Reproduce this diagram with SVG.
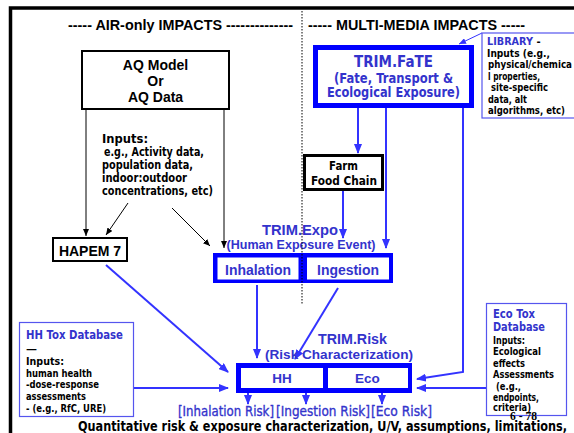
<svg xmlns="http://www.w3.org/2000/svg" width="574" height="433" viewBox="0 0 574 433">
<defs>
<style>
.hdr{font-family:"Liberation Sans",Arial,sans-serif;font-weight:bold;font-size:14px;fill:#000}
.ar{font-family:"Liberation Sans",Arial,sans-serif;font-weight:bold;fill:#3333cc}
.vb{font-family:"DejaVu Sans",Verdana,sans-serif;font-weight:bold}
.blk{fill:#000}
.blu{fill:#3333cc}
.bbox{fill:none;stroke:#0000ff;stroke-width:5}
.tbox{fill:#fff;stroke:#5555ee;stroke-width:1.2}
.kbox{fill:#fff;stroke:#000}
.barr{stroke:#3333ff;stroke-width:2;fill:none;marker-end:url(#ab)}
.karr{stroke:#000;stroke-width:1;fill:none;marker-end:url(#ak)}
</style>
<marker id="ab" markerUnits="userSpaceOnUse" markerWidth="10" markerHeight="8" refX="9" refY="4" orient="auto"><path d="M0,0 L10,4 L0,8 z" fill="#3333ff"/></marker>
<marker id="ak" markerUnits="userSpaceOnUse" markerWidth="7" markerHeight="6" refX="7" refY="3" orient="auto"><path d="M0,0 L7,3 L0,6 z" fill="#000"/></marker>
<marker id="at" markerUnits="userSpaceOnUse" markerWidth="7" markerHeight="6" refX="7" refY="3" orient="auto"><path d="M0,0 L7,3 L0,6 z" fill="#3333ff"/></marker>
</defs>
<rect width="574" height="433" fill="#fff"/>
<!-- frame -->
<path d="M10.5,433 V8 H574" fill="none" stroke="#000" stroke-width="3.5"/>
<text class="hdr" x="68" y="30" textLength="225" lengthAdjust="spacingAndGlyphs">----- AIR-only IMPACTS --------------</text>
<text class="hdr" x="308" y="30" textLength="217" lengthAdjust="spacingAndGlyphs">----- MULTI-MEDIA IMPACTS -----</text>

<g id="connectors">
<line class="karr" x1="86" y1="110" x2="86" y2="236"/>
<line class="karr" x1="224" y1="110" x2="224" y2="248"/>
<line class="karr" x1="128" y1="203" x2="106" y2="235"/>
<line class="karr" x1="172" y1="208" x2="210" y2="246"/>
<line class="barr" x1="358" y1="108" x2="358" y2="153"/>
<line class="barr" x1="386" y1="108" x2="386" y2="248"/>
<line class="barr" x1="343" y1="191" x2="343" y2="238"/>
<polyline class="barr" points="463,108 463,372 417,379"/>
<line class="barr" x1="487" y1="388" x2="417" y2="388"/>
<line x1="482" y1="33" x2="459" y2="44" stroke="#3333ff" stroke-width="1" marker-end="url(#at)"/>
<line class="barr" x1="106" y1="265" x2="228" y2="372"/>
<line class="barr" x1="134" y1="388" x2="228" y2="388"/>
<line class="barr" x1="257" y1="285" x2="257" y2="358"/>
<line class="barr" x1="338" y1="288" x2="295" y2="359"/>
<line class="barr" x1="248" y1="391" x2="248" y2="404"/>
<line class="barr" x1="306" y1="388" x2="306" y2="404"/>
<line class="barr" x1="382" y1="391" x2="382" y2="404"/>
</g>

<g id="aq-model">
<rect class="kbox" x="82" y="51" width="147" height="58" stroke-width="2"/>
<text class="hdr" x="155.5" y="70" text-anchor="middle">AQ Model</text>
<text class="hdr" x="155.5" y="86" text-anchor="middle">Or</text>
<text class="hdr" x="155.5" y="102" text-anchor="middle">AQ Data</text>
</g>

<g id="inputs" class="vb blk" font-size="11.5">
<text x="102" y="143" textLength="46" lengthAdjust="spacingAndGlyphs">Inputs:</text>
<text x="104" y="156" textLength="100" lengthAdjust="spacingAndGlyphs">e.g., Activity data,</text>
<text x="102" y="169" textLength="91" lengthAdjust="spacingAndGlyphs">population data,</text>
<text x="102" y="182" textLength="85" lengthAdjust="spacingAndGlyphs">indoor:outdoor</text>
<text x="102" y="195" textLength="111" lengthAdjust="spacingAndGlyphs">concentrations, etc)</text>
</g>

<g id="hapem">
<rect class="kbox" x="53" y="238" width="74" height="23" stroke-width="2"/>
<text class="hdr" x="90" y="256" text-anchor="middle">HAPEM 7</text>
</g>

<g id="trim-fate">
<rect class="bbox" x="315.5" y="47.5" width="156" height="58" fill="#fff"/>
<text class="vb blu" x="393.5" y="67" font-size="15.5" text-anchor="middle" textLength="79" lengthAdjust="spacingAndGlyphs">TRIM.FaTE</text>
<text class="vb blu" x="393.5" y="83" font-size="13.5" text-anchor="middle" textLength="119" lengthAdjust="spacingAndGlyphs">(Fate, Transport &amp;</text>
<text class="vb blu" x="393.5" y="97" font-size="13.5" text-anchor="middle" textLength="133" lengthAdjust="spacingAndGlyphs">Ecological Exposure)</text>
</g>

<g id="library">
<rect class="tbox" x="482" y="33" width="100" height="85"/>
<g class="vb" font-size="10">
<text x="487" y="45"><tspan class="blu" textLength="46" lengthAdjust="spacingAndGlyphs">LIBRARY</tspan><tspan class="blk"> -</tspan></text>
<text class="blk" x="487" y="57" textLength="63" lengthAdjust="spacingAndGlyphs">Inputs  (e.g.,</text>
<text class="blk" x="488" y="68" textLength="84" lengthAdjust="spacingAndGlyphs">physical/chemica</text>
<text class="blk" x="488" y="80" textLength="52" lengthAdjust="spacingAndGlyphs">l properties,</text>
<text class="blk" x="491" y="91" textLength="57" lengthAdjust="spacingAndGlyphs">site-specific</text>
<text class="blk" x="488" y="103" textLength="39" lengthAdjust="spacingAndGlyphs">data, alt</text>
<text class="blk" x="488" y="114" textLength="77" lengthAdjust="spacingAndGlyphs">algorithms, etc)</text>
</g>
</g>

<g id="farm">
<rect class="kbox" x="304.5" y="155.5" width="78" height="34" stroke-width="3"/>
<text class="vb blk" x="343.5" y="170" font-size="12" text-anchor="middle" textLength="29" lengthAdjust="spacingAndGlyphs">Farm</text>
<text class="vb blk" x="344" y="185" font-size="12" text-anchor="middle" textLength="66" lengthAdjust="spacingAndGlyphs">Food Chain</text>
</g>

<g id="trim-expo">
<text class="ar" x="300" y="235" font-size="14.5" text-anchor="middle" textLength="76" lengthAdjust="spacingAndGlyphs">TRIM.Expo</text>
<text class="ar" x="301" y="249" font-size="12.5" text-anchor="middle" textLength="149" lengthAdjust="spacingAndGlyphs">(Human Exposure Event)</text>
<rect x="213" y="253" width="180" height="30" fill="#0000ff"/>
<rect x="217.5" y="257.5" width="81" height="22" fill="#fff"/>
<rect x="307" y="257.5" width="82" height="22" fill="#fff"/>
<text class="ar" x="258" y="275" font-size="14" text-anchor="middle" textLength="66" lengthAdjust="spacingAndGlyphs">Inhalation</text>
<text class="ar" x="348" y="275" font-size="14" text-anchor="middle" textLength="62" lengthAdjust="spacingAndGlyphs">Ingestion</text>
</g>

<line x1="302" y1="11" x2="302" y2="305" stroke="#000" stroke-width="1" stroke-dasharray="1.5,1.5"/>

<g id="trim-risk">
<text class="ar" x="352.5" y="344" font-size="14.5" text-anchor="middle" textLength="69" lengthAdjust="spacingAndGlyphs">TRIM.Risk</text>
<text class="ar" x="339" y="359" font-size="13" text-anchor="middle" textLength="148" lengthAdjust="spacingAndGlyphs">(Risk Characterization)</text>
<rect x="236" y="363" width="176" height="30" fill="#0000ff"/>
<rect x="241" y="368" width="82" height="20" fill="#fff"/>
<rect x="328" y="368" width="80" height="20" fill="#fff"/>
<text class="ar" x="282" y="383" font-size="13.5" text-anchor="middle">HH</text>
<text class="ar" x="367.5" y="383" font-size="13.5" text-anchor="middle">Eco</text>
</g>

<g id="hh-tox">
<rect class="tbox" x="19.5" y="322.5" width="114" height="94"/>
<text class="vb blu" x="26" y="339" font-size="12" textLength="97" lengthAdjust="spacingAndGlyphs">HH Tox Database</text>
<text class="vb blk" x="26" y="353" font-size="11">—</text>
<g class="vb blk" font-size="10">
<text x="26" y="365" textLength="38" lengthAdjust="spacingAndGlyphs">Inputs:</text>
<text x="26" y="377" textLength="66" lengthAdjust="spacingAndGlyphs">human health</text>
<text x="26" y="388" textLength="73" lengthAdjust="spacingAndGlyphs">-dose-response</text>
<text x="26" y="400" textLength="60" lengthAdjust="spacingAndGlyphs">assessments</text>
<text x="26" y="412" textLength="80" lengthAdjust="spacingAndGlyphs">- (e.g., RfC, URE)</text>
</g>
</g>

<g id="eco-tox">
<rect class="tbox" x="486.5" y="303.5" width="80" height="112"/>
<text class="vb blu" x="493" y="318" font-size="12" textLength="42" lengthAdjust="spacingAndGlyphs">Eco Tox</text>
<text class="vb blu" x="493" y="331" font-size="12" textLength="52" lengthAdjust="spacingAndGlyphs">Database</text>
<g class="vb blk" font-size="10">
<text x="493" y="343.5" textLength="32" lengthAdjust="spacingAndGlyphs">Inputs:</text>
<text x="493" y="355" textLength="48" lengthAdjust="spacingAndGlyphs">Ecological</text>
<text x="493" y="366.5" textLength="32" lengthAdjust="spacingAndGlyphs">effects</text>
<text x="493" y="378" textLength="61" lengthAdjust="spacingAndGlyphs">Assessments</text>
<text x="496" y="389.5" textLength="25" lengthAdjust="spacingAndGlyphs">(e.g.,</text>
<text x="493" y="400.5" textLength="46" lengthAdjust="spacingAndGlyphs">endpoints,</text>
<text x="493" y="411" textLength="38" lengthAdjust="spacingAndGlyphs">criteria)</text>
</g>
</g>

<g id="risk-labels" font-family="DejaVu Sans, Verdana, sans-serif" font-size="13.5" fill="#3333cc" stroke="#3333cc" stroke-width="0.35">
<text x="178" y="416" textLength="96" lengthAdjust="spacingAndGlyphs">[Inhalation Risk]</text>
<text x="276" y="416" textLength="94" lengthAdjust="spacingAndGlyphs">[Ingestion  Risk]</text>
<text x="371" y="416" textLength="61" lengthAdjust="spacingAndGlyphs">[Eco Risk]</text>
</g>

<text x="510" y="420" font-family="Liberation Serif, Times New Roman, serif" font-size="11.5" font-weight="bold" fill="#000" textLength="27" lengthAdjust="spacingAndGlyphs">6 - 78</text>

<text class="vb blk" x="78" y="431" font-size="13.5" textLength="489" lengthAdjust="spacingAndGlyphs">Quantitative risk &amp; exposure characterization, U/V, assumptions, limitations,</text>
</svg>
